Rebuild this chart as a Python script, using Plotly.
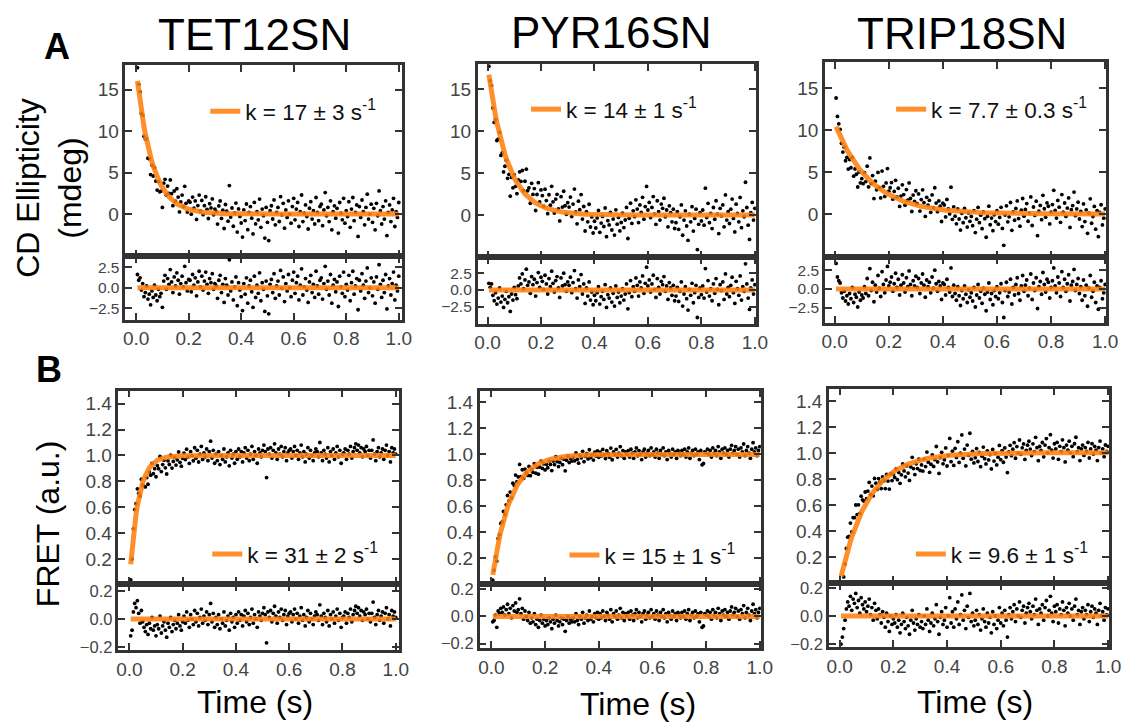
import numpy as np
import plotly.graph_objects as go

W, H = 1135, 727
FONT = "Liberation Sans, Arial, sans-serif"

# ---------------- data ----------------
titles = ["TET12SN", "PYR16SN", "TRIP18SN"]
k_cd = [17, 14, 7.7]
amp_cd = [17.5, 17.9, 10.8]
cd_labels = ["k = 17 ± 3 s<sup>-1</sup>", "k = 14 ± 1 s<sup>-1</sup>", "k = 7.7 ± 0.3 s<sup>-1</sup>"]
k_fret = [31, 15, 9.6]
amp_fret = [0.98, 1.0, 1.0]
plateau_fret = [1.0, 1.0, 1.005]
fret_labels = ["k = 31 ± 2 s<sup>-1</sup>", "k = 15 ± 1 s<sup>-1</sup>", "k = 9.6 ± 1 s<sup>-1</sup>"]

time_s = np.linspace(0.005, 1.0, 200)

res_cd_tet = [
    1.6, 0.9, 1.2, -0.3, 0.5, -1.1, -0.6, 0.2, -1.4, -0.8, -2.1, -0.4, -1.2, 0.3, -0.9, -1.6, -0.2, -1.1, -0.7, -2.4,
    0.8, 1.5, -0.2, 1.1, 0.4, 2.2, 0.7, -0.6, 1.3, 0.2, 1.8, 0.9, -0.8, 0.5, 1.4, 0.1, 2.6, 0.6, -0.4, 1.0,
    0.9, -0.5, 1.6, 0.3, 1.2, -1.0, 0.7, 2.0, 0.1, 1.4, -0.3, 0.8, 1.9, 0.4, -0.7, 1.1, 0.6, 1.7, -0.2, 0.5,
    0.2, -1.3, 0.9, 1.5, -0.6, 0.4, -1.8, 1.1, 0.3, -0.9, 3.4, -0.4, 0.7, -1.5, 0.1, 1.3, -2.2, 0.6, -0.3, -1.1,
    -2.8, 0.5, -0.8, 1.2, -1.9, 0.2, 0.9, -0.5, -2.4, 1.4, -1.2, 0.3, -0.7, 1.8, -1.6, 0.6, -0.2, -2.9, 0.8, -1.0,
    -3.2, 0.4, 1.0, -0.6, 1.7, -1.3, 0.2, 0.8, -0.9, 2.1, -0.1, 1.3, -1.7, 0.5, -0.4, 1.6, 0.0, -1.1, 0.9, 1.9,
    -0.7, 0.6, 1.4, -1.5, 0.3, 2.3, -0.9, 0.1, 1.1, -0.3, -1.8, 0.7, 1.5, -0.6, 0.4, -1.2, 2.0, 0.2, -0.8, 0.9,
    1.2, -1.4, 0.5, 2.6, -0.2, 0.8, -0.9, 1.6, -1.9, 0.3, 1.0, -0.5, 0.7, -2.3, 1.4, 0.1, -0.7, 1.9, -1.1, 0.4,
    -0.3, 1.5, -1.6, 0.6, 2.0, -0.8, 0.2, 1.1, -2.7, 0.9, -0.4, 1.7, 0.3, -1.3, 0.8, 2.4, -0.6, 0.0, 1.2, -1.0,
    0.7, -1.9, 1.3, -0.2, 2.8, 0.4, -1.2, 0.9, -0.6, 1.6, -2.6, 0.2, 1.1, -0.9, 0.5, 1.9, -1.5, 0.3, -0.4, 1.4,
]
res_cd_pyr = [
    1.0, 0.4, 0.9, -0.8, -1.6, -0.4, -2.1, -1.2, 0.3, -1.8, -0.9, -2.6, -1.4, -0.2, -1.9, -1.0, -3.2, -0.6, -1.5, 0.4,
    -0.7, -1.3, 0.6, 1.8, 0.9, 2.4, 0.2, 1.5, 3.1, 0.7, 1.2, -0.5, 2.0, 0.8, 1.6, -0.9, 1.1, 2.6, 0.4, 1.9,
    1.3, 0.1, 2.2, 0.9, -0.6, 1.7, 0.5, 2.8, 1.0, -0.3, 1.4, 2.0, 0.3, -1.1, 1.8, 0.6, 2.5, 0.8, -0.2, 1.2,
    0.7, 1.9, -0.4, 1.1, 2.9, 0.2, -1.2, 1.5, 0.5, 2.3, -0.6, 0.9, -2.0, 0.3, -0.9, 1.2, -1.5, -0.3, -2.2, -0.8,
    -1.6, -0.4, 0.5, -2.1, -1.0, -0.2, -1.4, 0.8, -2.6, -0.7, -1.2, 0.3, -1.8, -0.5, -2.4, 0.6, -1.1, -0.3, -1.9, -0.9,
    0.2, -1.5, -0.6, 0.9, -2.8, -0.4, 1.4, -1.0, 0.5, -0.2, 1.8, 0.7, -0.9, 1.2, 0.3, 2.1, -0.5, 1.0, 3.4, 0.6,
    1.5, -0.3, 0.9, 2.2, 0.1, -1.1, 1.7, 0.4, -0.6, 1.3, 0.8, 2.0, -0.2, 0.6, -1.4, 1.1, 0.3, -0.8, 0.7, -1.6,
    -0.9, 0.4, -1.7, -0.2, 1.2, -2.4, -0.6, 0.5, -1.3, -3.0, 0.1, -0.8, 1.0, -1.9, -0.4, 0.7, -4.1, -1.1, 0.3, -0.7,
    0.6, -1.2, 3.2, -0.3, 1.4, -0.9, 0.2, -1.6, 0.9, -0.5, 1.7, 0.1, -2.2, 0.8, -0.1, 1.2, -1.4, 2.4, -0.6, 0.4,
    -1.0, 0.7, 1.9, -0.4, -2.0, 1.3, 0.2, -0.8, 2.1, -1.5, 0.5, -0.2, 3.9, 0.9, -1.2, -2.9, 0.3, 1.5, -0.6, 0.8,
]
res_cd_trip = [
    3.4, 1.6, 1.1, 0.8, -0.5, -1.2, -0.3, -1.6, -0.9, -2.0, -0.6, -1.3, 0.2, -1.8, -0.7, -1.1, -2.4, -0.4, -1.5, -0.8,
    -1.2, 0.3, -0.6, 1.4, -0.9, 2.7, -0.2, 0.9, -1.7, 0.5, -0.4, 1.8, 0.1, -1.0, 2.3, 0.6, -0.5, 1.2, 3.0, 0.4,
    0.9, 1.6, -0.3, 0.7, 2.1, 0.2, 1.3, -0.8, 0.5, 1.9, 0.8, -0.4, 1.5, 0.3, 2.4, 0.6, -0.9, 1.1, 0.4, 1.7,
    0.2, 1.4, -0.6, 0.8, 2.0, 0.5, -1.1, 1.2, 0.3, 0.9, -0.5, 1.6, 0.1, 2.5, 0.7, -0.3, 1.0, 0.4, -1.4, 0.8,
    0.6, -0.8, 1.3, 0.2, -0.4, 2.8, -1.0, 0.5, -0.6, -1.5, 0.3, -0.9, -2.2, -0.2, -1.3, 0.4, -0.7, -1.8, -0.1, -1.1,
    -0.5, -1.6, 0.2, -2.4, -0.8, 0.6, -1.2, -0.3, -1.9, 0.1, -0.7, -2.9, -0.4, 0.8, -1.4, -0.6, -2.1, -0.2, -1.0, 0.3,
    -1.3, -0.5, 0.7, -1.8, -3.8, -0.2, 0.9, -1.0, -0.4, 1.3, -2.0, 0.2, -0.8, 0.6, 1.5, -0.6, -1.5, 0.4, 1.8, -0.3,
    0.5, 1.2, -0.9, 0.1, 2.0, -1.4, 0.8, -0.2, 1.5, -2.6, 0.3, 1.0, -0.7, 2.2, 0.6, -0.4, 1.3, 0.9, -1.2, 0.2,
    1.1, 2.8, 0.4, -0.5, 1.6, 0.8, -1.0, 2.3, 0.2, 1.3, -0.3, 0.7, 1.9, -1.6, 0.5, 1.0, 2.6, -0.2, 0.6, 1.4,
    -0.6, 0.3, -1.5, 1.2, -0.9, 0.5, -2.3, 0.1, 1.8, -1.1, -0.3, 0.9, -1.8, 0.4, -2.7, 0.2, 1.1, -1.3, -0.5, 0.6,
]
res_fret_tet = [
    -0.12, -0.08, 0.05, 0.11, 0.08, 0.13, 0.04, -0.03, 0.06, -0.02, -0.06, -0.09, -0.04, -0.11, -0.03, -0.07, 0.01, -0.08, -0.05, -0.12,
    -0.04, -0.07, 0.02, -0.10, -0.05, -0.02, -0.08, -0.13, -0.03, -0.06, 0.01, -0.09, -0.04, -0.01, -0.07, -0.03, 0.03, -0.05, -0.08, -0.02,
    0.02, -0.03, 0.05, -0.01, -0.06, 0.03, 0.00, -0.04, 0.06, -0.02, 0.04, -0.05, 0.01, 0.07, -0.03, 0.02, -0.01, 0.05, -0.04, 0.03,
    0.11, -0.02, 0.04, -0.06, 0.01, -0.04, 0.03, -0.07, 0.00, -0.03, 0.05, -0.05, -0.01, 0.02, -0.08, 0.04, -0.02, 0.01, -0.06, 0.03,
    -0.03, 0.05, -0.01, 0.03, -0.05, 0.02, 0.06, -0.02, 0.04, -0.04, 0.01, 0.07, -0.03, 0.03, 0.00, -0.06, 0.05, 0.02, -0.01, 0.04,
    0.08, 0.03, -0.17, 0.05, 0.01, 0.06, -0.02, 0.04, 0.09, 0.02, -0.03, 0.05, 0.01, 0.07, -0.01, 0.03, 0.06, -0.04, 0.02, 0.04,
    0.05, -0.02, 0.03, 0.07, 0.00, 0.04, -0.03, 0.02, 0.08, -0.01, 0.03, -0.05, 0.01, 0.06, -0.02, 0.04, 0.00, -0.04, 0.02, 0.05,
    0.03, -0.01, 0.10, 0.02, -0.04, 0.04, 0.01, -0.02, 0.06, -0.05, 0.03, 0.00, 0.05, -0.03, 0.02, 0.07, -0.01, 0.04, -0.06, 0.01,
    0.02, 0.05, -0.03, 0.04, 0.01, 0.07, -0.02, 0.03, 0.06, 0.09, 0.04, 0.08, 0.02, 0.06, -0.01, 0.05, 0.03, 0.07, 0.00, 0.04,
    -0.02, 0.04, 0.12, 0.01, -0.04, 0.03, 0.06, -0.01, 0.02, 0.05, -0.03, 0.04, 0.08, 0.00, 0.03, -0.05, 0.06, 0.02, 0.05, 0.01,
]
res_fret_pyr = [
    -0.04, -0.03, 0.01, -0.08, 0.04, 0.02, 0.06, 0.03, 0.07, 0.01, 0.05, 0.09, 0.02, 0.06, -0.01, 0.08, 0.04, 0.10, 0.03, 0.05,
    0.13, 0.02, 0.06, -0.02, 0.04, 0.00, -0.03, 0.03, -0.05, -0.01, -0.04, 0.02, -0.06, -0.02, -0.08, -0.03, 0.01, -0.05, -0.02, -0.07,
    -0.03, -0.06, -0.01, -0.04, -0.09, -0.02, -0.05, 0.01, -0.03, -0.07, -0.04, -0.01, -0.06, -0.02, -0.11, -0.03, 0.00, -0.05, -0.02, -0.04,
    -0.01, -0.04, 0.02, -0.03, -0.06, 0.00, -0.02, 0.03, -0.05, -0.01, 0.01, -0.03, 0.04, -0.02, 0.00, -0.04, 0.02, -0.01, 0.03, -0.02,
    0.02, -0.01, 0.04, 0.00, -0.03, 0.03, 0.01, -0.02, 0.05, -0.04, 0.02, 0.00, 0.04, -0.02, 0.01, 0.06, -0.01, 0.03, -0.03, 0.02,
    0.00, 0.03, -0.02, 0.04, 0.01, -0.03, 0.02, 0.05, -0.01, 0.03, 0.00, -0.04, 0.02, 0.04, -0.02, 0.01, 0.03, -0.01, 0.05, 0.00,
    0.02, -0.02, 0.04, 0.01, -0.03, 0.03, 0.00, 0.05, -0.01, 0.02, -0.04, 0.03, 0.01, -0.02, 0.04, 0.00, 0.02, -0.03, 0.03, 0.01,
    -0.01, 0.03, 0.00, 0.04, -0.02, 0.02, 0.05, -0.03, 0.01, 0.03, -0.01, 0.04, 0.00, 0.02, -0.04, 0.03, -0.08, -0.07, 0.02, 0.01,
    0.04, 0.00, 0.03, -0.02, 0.05, 0.01, 0.03, -0.01, 0.06, 0.02, -0.03, 0.04, 0.01, 0.05, 0.00, 0.03, -0.02, 0.04, 0.07, 0.01,
    0.03, 0.06, 0.00, 0.04, -0.02, 0.05, 0.02, 0.08, -0.01, 0.03, 0.06, 0.01, -0.03, 0.04, 0.09, 0.02, 0.05, -0.01, 0.03, 0.06,
]
res_fret_trip = [
    -0.20, -0.15, -0.09, -0.03, 0.05, 0.10, 0.07, 0.14, 0.04, 0.12, 0.09, 0.16, 0.06, 0.11, 0.02, 0.13, 0.08, 0.05, 0.10, 0.03,
    0.07, 0.12, 0.01, 0.06, -0.03, 0.09, 0.04, -0.02, 0.05, 0.01, -0.05, 0.03, -0.01, -0.08, 0.02, -0.04, -0.11, 0.00, -0.06, -0.02,
    -0.05, 0.01, -0.08, -0.03, -0.12, -0.06, 0.02, -0.04, -0.09, -0.01, -0.07, -0.13, -0.03, 0.04, -0.05, -0.10, -0.02, -0.06, 0.01, -0.08,
    -0.04, -0.09, 0.00, -0.06, 0.05, -0.03, -0.11, -0.05, 0.02, -0.07, -0.02, 0.08, -0.04, -0.13, -0.01, 0.03, -0.06, -0.03, 0.06, -0.08,
    0.00, 0.13, -0.05, 0.03, -0.08, 0.05, -0.02, 0.10, -0.06, 0.01, 0.15, -0.03, 0.04, -0.09, 0.07, -0.01, 0.16, -0.04, 0.02, -0.07,
    -0.03, 0.04, -0.06, 0.01, -0.10, -0.02, 0.05, -0.04, -0.08, 0.02, -0.05, -0.01, -0.12, 0.03, -0.06, 0.00, -0.09, -0.03, 0.06, -0.05,
    0.02, -0.07, 0.04, -0.03, -0.15, 0.01, 0.06, -0.02, 0.03, 0.08, -0.04, 0.05, 0.00, 0.10, -0.01, 0.04, 0.07, -0.05, 0.02, 0.06,
    0.09, 0.03, -0.02, 0.07, 0.01, 0.12, 0.04, -0.06, 0.05, 0.02, 0.08, -0.03, 0.06, 0.11, 0.00, 0.04, 0.14, 0.02, -0.04, 0.07,
    0.03, 0.08, -0.05, 0.05, 0.01, 0.10, 0.04, -0.07, 0.06, 0.02, 0.09, 0.00, 0.05, -0.03, 0.07, 0.12, 0.01, 0.04, -0.06, 0.03,
    0.06, -0.02, 0.04, 0.01, 0.08, -0.04, 0.03, 0.07, -0.01, 0.05, 0.02, -0.06, 0.04, 0.09, 0.00, 0.03, -0.03, 0.06, 0.01, 0.05,
]

cd_res = [res_cd_tet, res_cd_pyr, res_cd_trip]
fret_res = [res_fret_tet, res_fret_pyr, res_fret_trip]

cd_main_ticks = [0, 5, 10, 15]
cd_res_ticks = [-2.5, 0.0, 2.5]
fret_main_ticks = [0.2, 0.4, 0.6, 0.8, 1.0, 1.2, 1.4]
fret_res_ticks = [-0.2, 0.0, 0.2]
x_ticks = [0.0, 0.2, 0.4, 0.6, 0.8, 1.0]

# ---------------- geometry (pixels) ----------------
panels = [
    dict(x0=124, x1=404, t=62, d=256, b=320, xr=[-0.041, 1.011], yr=[-5.12, 17.98], rr=[-3.9, 3.8]),
    dict(x0=481, x1=763, t=61, d=257, b=324, xr=[-0.037, 1.004], yr=[-5.04, 17.94], rr=[-5.0, 4.85]),
    dict(x0=833, x1=1118, t=59, d=257, b=323, xr=[-0.036, 1.004], yr=[-5.16, 18.05], rr=[-4.47, 4.2]),
    dict(x0=117, x1=401, t=392, d=588, b=655, xr=[-0.041, 1.011], yr=[0.01, 1.5], rr=[-0.221, 0.249]),
    dict(x0=483, x1=768, t=392, d=588, b=653, xr=[-0.044, 1.004], yr=[0.003, 1.491], rr=[-0.233, 0.24]),
    dict(x0=837, x1=1121, t=390, d=587, b=652, xr=[-0.040, 1.004], yr=[0.003, 1.499], rr=[-0.221, 0.235]),
]
legend_pos = [(205, 109), (530, 107), (900, 107), (207, 558), (569, 559), (920, 558)]

ORANGE = "rgba(255,127,14,0.88)"
FRAME = "#333333"


def fx(p):
    return p / W


def fy(p):
    return 1 - p / H


base_axis = dict(showline=True, linecolor=FRAME, linewidth=2.5, mirror="allticks",
                 ticks="inside", ticklen=7, tickwidth=2, tickcolor=FRAME,
                 showgrid=False, zeroline=False,
                 tickfont=dict(family=FONT, size=19, color="#444444"))

fig = go.Figure()
layout = {}

for i, p in enumerate(panels):
    row = i // 3
    col = i % 3
    n_main = 2 * i + 1
    n_res = 2 * i + 2
    xm = "x" if n_main == 1 else f"x{n_main}"
    ym = "y" if n_main == 1 else f"y{n_main}"
    xres, yres = f"x{n_res}", f"y{n_res}"

    if row == 0:
        fit = amp_cd[col] * np.exp(-k_cd[col] * time_s)
        res = np.array(cd_res[col])
        label = cd_labels[col]
        mticks, rticks, mfmt = cd_main_ticks, cd_res_ticks, None
        rfont = 15.5
    else:
        fit = plateau_fret[col] - amp_fret[col] * np.exp(-k_fret[col] * time_s)
        res = np.array(fret_res[col])
        label = fret_labels[col]
        mticks, rticks, mfmt = fret_main_ticks, fret_res_ticks, ".1f"
        rfont = 16.5
    data = fit + res
    resid = data - fit
    zero_fit = fit - fit

    lg = "legend" if i == 0 else f"legend{i + 1}"

    fig.add_trace(go.Scatter(x=time_s, y=data, mode="markers", xaxis=xm, yaxis=ym,
                             marker=dict(color="black", size=3.8), showlegend=False,
                             hoverinfo="skip"))
    fig.add_trace(go.Scatter(x=time_s, y=fit, mode="lines", xaxis=xm, yaxis=ym,
                             line=dict(color=ORANGE, width=5), name=label,
                             legend=lg, showlegend=True))
    fig.add_trace(go.Scatter(x=time_s, y=resid, mode="markers", xaxis=xres, yaxis=yres,
                             marker=dict(color="black", size=3.8), showlegend=False,
                             hoverinfo="skip"))
    fig.add_trace(go.Scatter(x=time_s, y=zero_fit, mode="lines", xaxis=xres, yaxis=yres,
                             line=dict(color=ORANGE, width=5), showlegend=False))

    xdom = [fx(p["x0"]), fx(p["x1"])]
    ax_main_x = dict(base_axis, domain=xdom, range=p["xr"], anchor=ym,
                     tickvals=x_ticks, showticklabels=False)
    ax_res_x = dict(base_axis, domain=xdom, range=p["xr"], anchor=yres,
                    tickvals=x_ticks, tickformat=".1f")
    ax_main_y = dict(base_axis, domain=[fy(p["d"]), fy(p["t"])], range=p["yr"], anchor=xm,
                     tickvals=mticks)
    if mfmt:
        ax_main_y["tickformat"] = mfmt
    ax_res_y = dict(base_axis, domain=[fy(p["b"]), fy(p["d"])], range=p["rr"], anchor=xres,
                    tickvals=rticks, tickformat=".1f",
                    tickfont=dict(family=FONT, size=rfont, color="#444444"))

    layout["xaxis" if n_main == 1 else f"xaxis{n_main}"] = ax_main_x
    layout[f"yaxis{'' if n_main == 1 else n_main}"] = ax_main_y
    layout[f"xaxis{n_res}"] = ax_res_x
    layout[f"yaxis{n_res}"] = ax_res_y

    lx, ly = legend_pos[i]
    layout[lg] = dict(x=fx(lx), y=fy(ly), xanchor="left", yanchor="middle",
                      bgcolor="rgba(0,0,0,0)", borderwidth=0,
                      font=dict(family=FONT, size=22.5, color="#111111"))


def label_ann(text, px, py, size, angle=0):
    return dict(text=text, x=fx(px), y=fy(py), xref="paper", yref="paper",
                xanchor="center", yanchor="middle", showarrow=False, textangle=angle,
                font=dict(family=FONT, size=size, color="black"))


annotations = []
title_pos = [(255, 31), (617, 29), (972, 30)]
for t, (tx, ty) in zip(titles, title_pos):
    annotations.append(label_ann(t, tx, ty, 44))
annotations.append(label_ann("<b>A</b>", 55, 43, 36))
annotations.append(label_ann("<b>B</b>", 47, 371, 36))
annotations.append(label_ann("CD Ellipticity<br>(mdeg)", 47, 186, 32, -90))
annotations.append(label_ann("FRET (a.u.)", 45, 527, 32, -90))
for tx, ty in [(255, 708), (643, 710), (985, 708)]:
    annotations.append(label_ann("Time (s)", tx, ty, 32))

fig.update_layout(width=W, height=H, autosize=False,
                  margin=dict(l=0, r=0, t=0, b=0),
                  paper_bgcolor="white", plot_bgcolor="white",
                  annotations=annotations, **layout)

fig.write_html("out.html")
